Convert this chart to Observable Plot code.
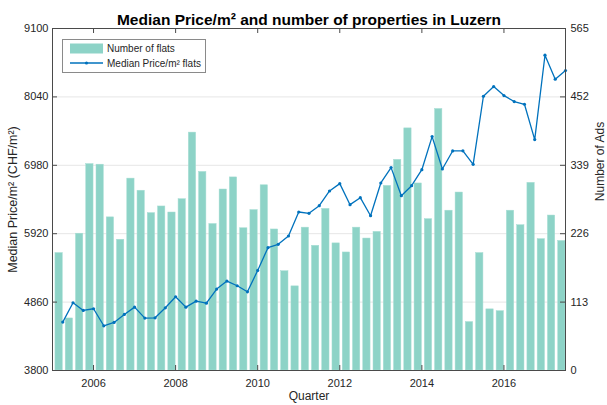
<!DOCTYPE html>
<html>
<head>
<meta charset="utf-8">
<script src="https://cdn.jsdelivr.net/npm/d3@7"></script>
<script src="https://cdn.jsdelivr.net/npm/@observablehq/plot@0.6"></script>
<style>
  html, body { margin: 0; padding: 0; background: #fff; }
  #chart { width: 607px; height: 405px; }
</style>
</head>
<body>
<div id="chart"></div>
<script>
// ---- data ----
const quarters = [
  "2005Q1","2005Q2","2005Q3","2005Q4","2006Q1","2006Q2","2006Q3","2006Q4",
  "2007Q1","2007Q2","2007Q3","2007Q4","2008Q1","2008Q2","2008Q3","2008Q4",
  "2009Q1","2009Q2","2009Q3","2009Q4","2010Q1","2010Q2","2010Q3","2010Q4",
  "2011Q1","2011Q2","2011Q3","2011Q4","2012Q1","2012Q2","2012Q3","2012Q4",
  "2013Q1","2013Q2","2013Q3","2013Q4","2014Q1","2014Q2","2014Q3","2014Q4",
  "2015Q1","2015Q2","2015Q3","2015Q4","2016Q1","2016Q2","2016Q3","2016Q4",
  "2017Q1","2017Q2"
];
const flats = [
  194, 86, 226, 341, 340, 253, 216, 317, 297, 260,
  271, 261, 283, 393, 328, 242, 299, 319, 235, 265,
  306, 233, 164, 139, 236, 206, 267, 210, 195, 236,
  218, 229, 305, 348, 400, 309, 250, 432, 264, 294,
  80, 194, 101, 98, 264, 240, 310, 217, 256, 214
];
const medianPrice = [
  4550, 4850, 4731, 4757, 4493, 4545, 4669, 4782, 4612, 4617,
  4772, 4943, 4782, 4875, 4844, 5062, 5186, 5113, 5020, 5351,
  5703, 5755, 5884, 6256, 6236, 6354, 6582, 6696, 6370, 6478,
  6199, 6706, 6944, 6509, 6664, 6912, 7425, 6923, 7202, 7205,
  6995, 8050, 8200, 8060, 7968, 7926, 7378, 8686, 8314, 8449
];
const leftTicks = [3800, 4860, 5920, 6980, 8040, 9100];
const rightTicks = [0, 113, 226, 339, 452, 565];
const xTicks = [2006, 2008, 2010, 2012, 2014, 2016];

const titleText = "Median Price/m² and number of properties in Luzern";
const yLeftLabel = "Median Price/m² (CHF/m²)";
const yRightLabel = "Number of Ads";
const xLabel = "Quarter";
const legendBars = "Number of flats";
const legendLine = "Median Price/m² flats";

// ---- helpers ----
const yMin = leftTicks[0], yMax = leftTicks[leftTicks.length - 1];
const rMax = rightTicks[rightTicks.length - 1];
const toLeft = v => yMin + v * (yMax - yMin) / rMax;   // right-axis value -> left scale
const qTime = q => +q.slice(0, 4) + (+q.slice(5)) / 4; // quarter end as fractional year
const barW = 0.178;

const data = quarters.map((q, i) => ({
  q, t: qTime(q), flats: flats[i], price: medianPrice[i]
}));
const xDom = [2005, 2017.5];
const tickLenY = (yMax - yMin) / 342 * 5;
const tickLenX = (xDom[1] - xDom[0]) / 513 * 5;
const axisColor = "#4a4a4a";
const blue = "#0072bd";
const teal = "#8dd3c7";

const chart = Plot.plot({
  width: 607,
  height: 405,
  marginLeft: 52,
  marginRight: 42,
  marginTop: 28,
  marginBottom: 35,
  style: { fontFamily: "'Liberation Sans', Arial, sans-serif", fontSize: "11px", color: "#262626", background: "#fff" },
  x: { domain: xDom },
  y: { domain: [yMin, yMax] },
  marks: [
    Plot.ruleY(leftTicks.slice(1, -1), { stroke: "#e6e6e6", strokeWidth: 1 }),
    Plot.rect(data, {
      x1: d => d.t - barW, x2: d => d.t,
      y1: yMin, y2: d => toLeft(d.flats),
      fill: teal, stroke: "#a6ddd3", strokeWidth: 0.5
    }),
    Plot.line(data, { x: "t", y: "price", stroke: blue, strokeWidth: 1.3 }),
    Plot.dot(data, { x: "t", y: "price", r: 1.6, fill: blue, stroke: "none" }),
    // inward ticks
    Plot.ruleY(leftTicks.slice(1, -1), { x1: xDom[0], x2: xDom[0] + tickLenX, stroke: axisColor }),
    Plot.ruleY(leftTicks.slice(1, -1), { x1: xDom[1] - tickLenX, x2: xDom[1], stroke: axisColor }),
    Plot.ruleX(xTicks, { y1: yMin, y2: yMin + tickLenY, stroke: axisColor }),
    Plot.ruleX(xTicks, { y1: yMax - tickLenY, y2: yMax, stroke: axisColor }),
    Plot.frame({ stroke: axisColor, strokeWidth: 1 }),
    Plot.axisY(leftTicks, { anchor: "left", tickSize: 0, tickPadding: 4, label: null, tickFormat: d => String(d) }),
    Plot.axisY(leftTicks, {
      anchor: "right", tickSize: 0, tickPadding: 5, label: null,
      tickFormat: d => String(rightTicks[leftTicks.indexOf(d)])
    }),
    Plot.axisX(xTicks, { anchor: "bottom", tickSize: 0, tickPadding: 9, label: null, tickFormat: d => String(d) }),
    Plot.text([titleText], { frameAnchor: "top", dy: -15, fontSize: 15.5, fontWeight: "bold", fill: "#000" }),
    Plot.text([xLabel], { frameAnchor: "bottom", dy: 29, fontSize: 12, fill: "#262626" }),
    Plot.text([yLeftLabel], { frameAnchor: "left", textAnchor: "middle", dx: -40, rotate: -90, fontSize: 12.5, fill: "#262626" }),
    Plot.text([yRightLabel], { frameAnchor: "right", textAnchor: "middle", dx: 35, dy: -38, rotate: -90, fontSize: 12, fill: "#262626" })
  ]
});

document.getElementById("chart").appendChild(chart);

// ---- legend (inside the axes, top-left) ----
const svg = d3.select(chart);
const lg = svg.append("g")
  .attr("font-family", "'Liberation Sans', Arial, sans-serif")
  .attr("font-size", 10)
  .attr("text-anchor", "start");
lg.append("rect").attr("x", 62.5).attr("y", 39.5).attr("width", 143).attr("height", 33)
  .attr("fill", "#fff").attr("stroke", "#8a8a8a").attr("stroke-width", 1);
lg.append("rect").attr("x", 70).attr("y", 43.5).attr("width", 33).attr("height", 10).attr("fill", teal);
lg.append("text").attr("x", 107).attr("y", 48.5).attr("dy", "0.35em").attr("text-anchor", "start").attr("fill", "#262626").text(legendBars);
lg.append("line").attr("x1", 70).attr("x2", 103).attr("y1", 63).attr("y2", 63).attr("stroke", blue).attr("stroke-width", 1.3);
lg.append("circle").attr("cx", 86.5).attr("cy", 63).attr("r", 1.6).attr("fill", blue);
lg.append("text").attr("x", 107).attr("y", 63.5).attr("dy", "0.35em").attr("text-anchor", "start").attr("fill", "#262626").text(legendLine);
</script>
</body>
</html>
